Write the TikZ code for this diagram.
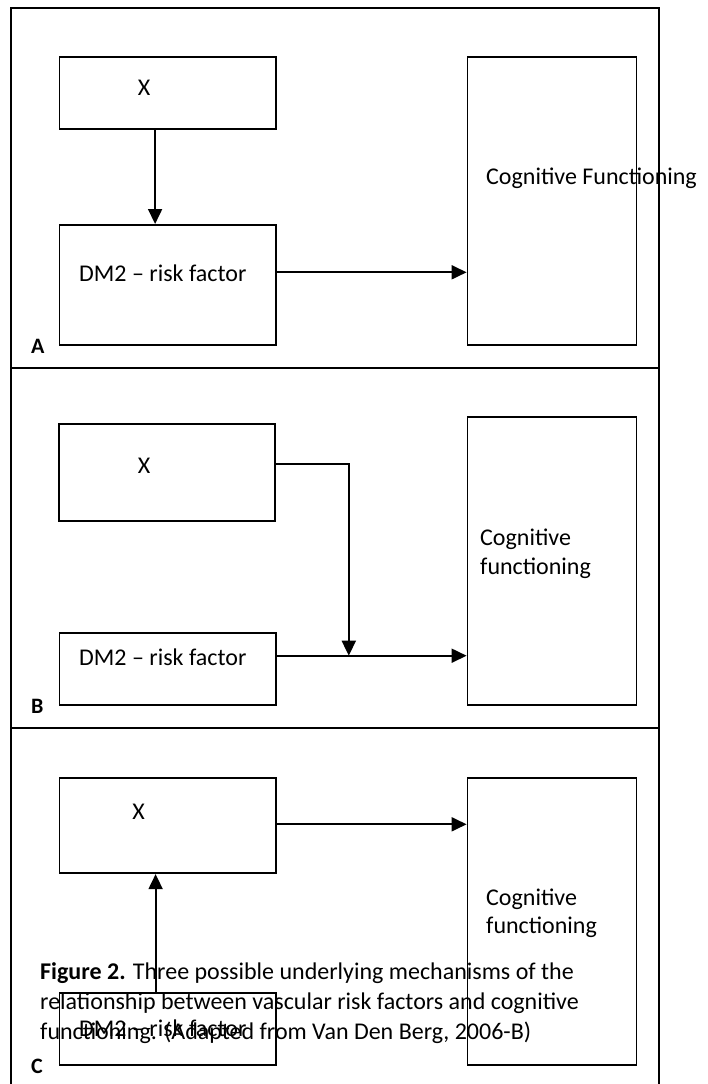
\documentclass[tikz,border=0pt]{standalone}
\usepackage{fontspec}
\setmainfont{Carlito}
\usetikzlibrary{arrows.meta}
\begin{document}
\begin{tikzpicture}[x=1pt,y=-1pt,
  box/.style={draw, line width=1.8pt, minimum width=216.4pt, inner sep=0pt, anchor=north west},
  cogbox/.style={draw, line width=1.8pt, minimum width=169pt, inner sep=0pt, anchor=north west},
  txt/.style={inner sep=0pt, font=\fontsize{24}{29}\selectfont},
  lbl/.style={inner sep=0pt, font=\fontsize{22}{26}\selectfont\bfseries, anchor=base west},
  arr/.style={line width=1.8pt, -{Triangle[length=15pt,width=14pt]}},
  frame/.style={line width=2.2pt}]
\useasboundingbox (0,0) rectangle (707,1084);
% outer frame
\draw[frame] (11,1084) -- (11,8) -- (659,8) -- (659,1084);
\draw[frame] (11,368) -- (659,368);
\draw[frame] (11,728) -- (659,728);
% ---------- Panel A
\node[box, minimum height=71.7pt] (xa) at (58.6,56) {};
\node[box, minimum height=120pt] (da) at (58.6,224) {};
\node[cogbox, minimum height=288pt] (ca) at (466.6,56.3) {};
\node[txt, anchor=base] (xat) at (144,95.5) {X};
\node[txt, anchor=base west] (dat) at (79,281.5) {DM2 – risk factor};
\node[txt, anchor=base west] (cat) at (486,184.3) {Cognitive Functioning};
\node[lbl] (la) at (31,353) {A};
\draw[arr] ([xshift=96.5pt]xa.south west) -- ([xshift=96.5pt]da.north west);
\draw[arr] ([yshift=-48.3pt]da.north east) coordinate (pa) -- (pa -| ca.west);
% ---------- Panel B
\node[box, minimum height=96.7pt] (xb) at (58,423.3) {};
\node[box, minimum height=71.7pt] (db) at (58.6,632.3) {};
\node[cogbox, minimum height=287.7pt] (cb) at (466.6,416.3) {};
\node[txt, anchor=base] (xbt) at (144,473.5) {X};
\node[txt, anchor=base west] (dbt) at (79,665) {DM2 – risk factor};
\node[txt, anchor=base west] (cbt1) at (480,545) {Cognitive};
\node[txt, anchor=base west] (cbt2) at (480,574) {functioning};
\node[lbl] (lb) at (31,713) {B};
\draw[arr] ([yshift=-23.4pt]db.north east) coordinate (pb) -- (pb -| cb.west);
\coordinate (jb) at ([xshift=72pt]pb);
\draw[arr] ([yshift=-41pt]xb.north east) -| (jb);
% ---------- Panel C
\node[box, minimum height=95.6pt] (xc) at (58.6,776.7) {};
\node[box, minimum height=71.7pt] (dc) at (58.6,992.3) {};
\node[cogbox, minimum height=287.3pt] (cc) at (466.6,776.7) {};
\node[txt, anchor=base] (xct) at (138.6,819.5) {X};
\node[txt, anchor=base west] (dct) at (79,1036.5) {DM2 – risk factor};
\node[txt, anchor=base west] (cct1) at (486,905) {Cognitive};
\node[txt, anchor=base west] (cct2) at (486,933) {functioning};
\node[lbl] (lc) at (31,1073) {C};
\draw[arr] ([yshift=-47.6pt]xc.north east) coordinate (pc) -- (pc -| cc.west);
\draw[arr] ([xshift=97pt]dc.north west) -- ([xshift=97pt]xc.south west);
% caption
\node[txt, anchor=base west] (cap1) at (40,979) {\textbf{Figure 2.} Three possible underlying mechanisms of the};
\node[txt, anchor=base west] (cap2) at (40,1009) {relationship between vascular risk factors and cognitive};
\node[txt, anchor=base west] (cap3) at (40,1039) {functioning. (Adapted from Van Den Berg, 2006-B)};
\end{tikzpicture}
\end{document}
